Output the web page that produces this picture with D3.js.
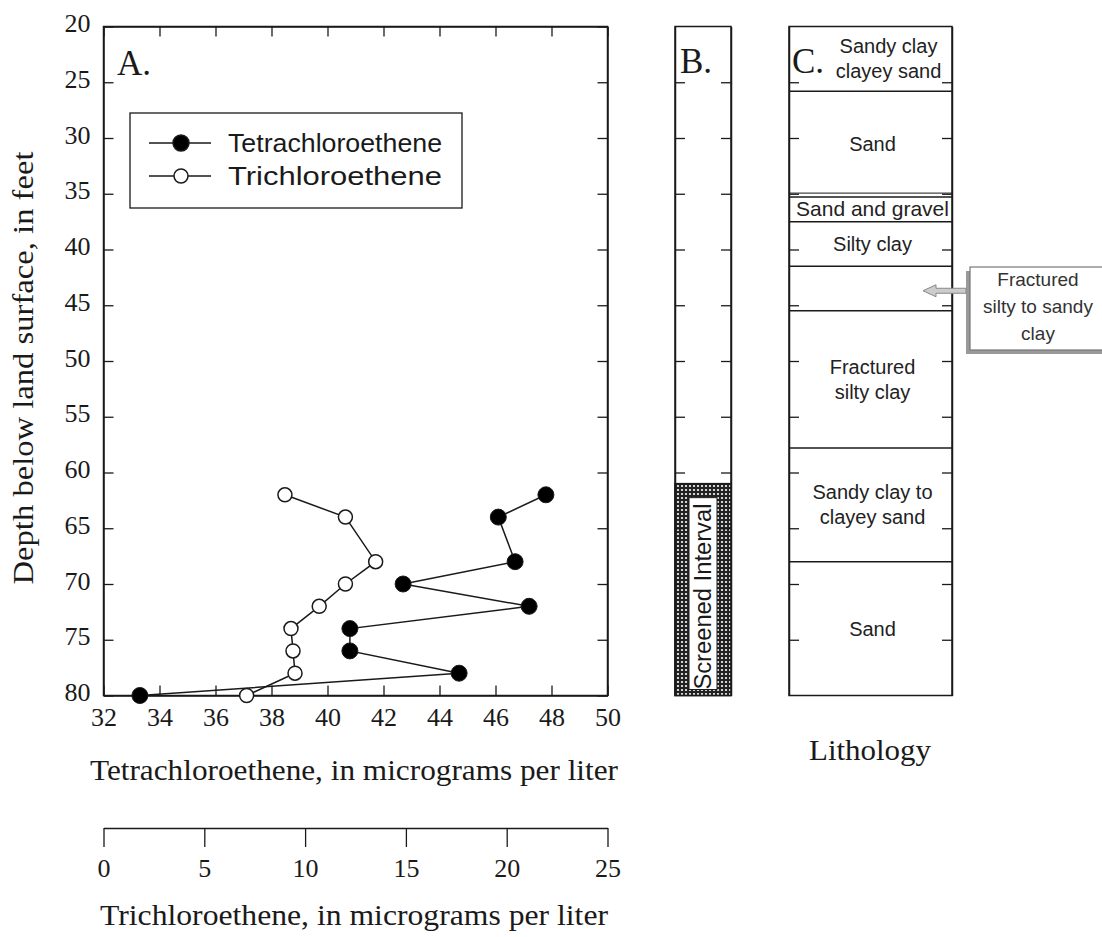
<!DOCTYPE html>
<html><head><meta charset="utf-8">
<script src="https://cdn.jsdelivr.net/npm/d3@7"></script>
<style>
html,body{margin:0;padding:0;background:#fff;}
svg{display:block;}
</style></head>
<body>
<svg id="chart" width="1102" height="937"></svg>
<script>
// ---------- data ----------
const depthTicks = [20,25,30,35,40,45,50,55,60,65,70,75,80];
const pceTicks = [32,34,36,38,40,42,44,46,48,50];
const tceTicks = [0,5,10,15,20,25];
const depths = [62,64,68,70,72,74,76,78,80];
const pceValues = [47.8,46.1,46.7,42.7,47.2,40.8,40.8,44.7,33.3];
const tceValues = [9.0,12.0,13.5,12.0,10.7,9.3,9.4,9.5,7.1];
const seriesNames = ["Tetrachloroethene","Trichloroethene"];
const layerTops =    [20,25.8,35.3,37.5,41.5,45.5,57.8,68];
const layerBottoms = [25.8,35.3,37.5,41.5,45.5,57.8,68,80];
const layerLabels = [["Sandy clay","clayey sand"],["Sand"],["Sand and gravel"],["Silty clay"],[],["Fractured","silty clay"],["Sandy clay to","clayey sand"],["Sand"]];
const calloutLines = ["Fractured","silty to sandy","clay"];
const calloutDepth = 43.7;
const screenedInterval = [61,80];
const screenedLabel = "Screened Interval";

// ---------- layout ----------
const SERIF = '"Liberation Serif","Times New Roman",Times,serif';
const SANS = '"Liberation Sans",Arial,Helvetica,sans-serif';
const svg = d3.select("#chart");
const ink = "#1a1a1a";
const y = d3.scaleLinear().domain([20,80]).range([26.5,695.5]);
const x = d3.scaleLinear().domain([32,50]).range([103.5,607.5]);
const xT = d3.scaleLinear().domain([0,25]).range([103.5,607.5]);

const defs = svg.append("defs");
const pat = defs.append("pattern").attr("id","screen").attr("patternUnits","userSpaceOnUse")
  .attr("width",4).attr("height",4);
pat.append("rect").attr("width",4).attr("height",4).attr("fill","#222");
pat.append("circle").attr("cx",2).attr("cy",2).attr("r",1.1).attr("fill","#fff");

function styleAxis(g){
  g.attr("font-family",null).attr("font-size",null);
  g.selectAll("path.domain").attr("stroke",ink).attr("stroke-width",1.5);
  g.selectAll(".tick line").attr("stroke",ink).attr("stroke-width",1.3);
  g.selectAll(".tick text").attr("fill",ink).style("font-family",SERIF).style("font-size","26px");
}

// ---------- Panel A ----------
const A = svg.append("g");
A.append("rect").attr("x",x.range()[0]).attr("y",y.range()[0])
  .attr("width",x.range()[1]-x.range()[0]).attr("height",y.range()[1]-y.range()[0])
  .attr("fill","none").attr("stroke",ink).attr("stroke-width",1.5);

const gl = A.append("g").attr("transform",`translate(${x.range()[0]},0)`)
  .call(d3.axisLeft(y).tickValues(depthTicks).tickSizeInner(-10).tickSizeOuter(0).tickPadding(13));
styleAxis(gl);
gl.selectAll(".tick text").attr("dy","0.2em");
const gr = A.append("g").attr("transform",`translate(${x.range()[1]},0)`)
  .call(d3.axisRight(y).tickValues(depthTicks).tickSizeInner(-10).tickSizeOuter(0).tickFormat(""));
styleAxis(gr);
const gb = A.append("g").attr("transform",`translate(0,${y.range()[1]})`)
  .call(d3.axisBottom(x).tickValues(pceTicks).tickSizeInner(-10).tickSizeOuter(0).tickPadding(12));
styleAxis(gb);
const gt = A.append("g").attr("transform",`translate(0,${y.range()[0]})`)
  .call(d3.axisTop(x).tickValues(pceTicks).tickSizeInner(-10).tickSizeOuter(0).tickFormat(""));
styleAxis(gt);

A.append("text").style("font-family",SERIF).attr("x",117).attr("y",75).attr("font-size",35).attr("fill",ink).text("A.");

// lines
const pcePts = depths.map((d,i)=>[x(pceValues[i]), y(d)]);
const tcePts = depths.map((d,i)=>[xT(tceValues[i]), y(d)]);
const line = d3.line();
A.append("path").attr("d",line(tcePts)).attr("fill","none").attr("stroke",ink).attr("stroke-width",1.5);
A.append("path").attr("d",line(pcePts)).attr("fill","none").attr("stroke",ink).attr("stroke-width",1.5);
A.selectAll("circle.tce").data(tcePts).enter().append("circle").attr("class","tce")
  .attr("cx",d=>d[0]).attr("cy",d=>d[1]).attr("r",7).attr("fill","#fff").attr("stroke",ink).attr("stroke-width",1.5);
A.selectAll("circle.pce").data(pcePts).enter().append("circle").attr("class","pce")
  .attr("cx",d=>d[0]).attr("cy",d=>d[1]).attr("r",8).attr("fill","#000").attr("stroke",ink).attr("stroke-width",1);

// legend
const L = A.append("g");
L.append("rect").attr("x",130).attr("y",113).attr("width",332).attr("height",95)
  .attr("fill","#fff").attr("stroke",ink).attr("stroke-width",1.3);
seriesNames.forEach((nm,i)=>{
  const ry = 143 + i*33;
  L.append("line").attr("x1",149).attr("x2",211).attr("y1",ry).attr("y2",ry).attr("stroke",ink).attr("stroke-width",1.5);
  L.append("circle").attr("cx",181).attr("cy",ry).attr("r",i===0?8:7)
    .attr("fill",i===0?"#000":"#fff").attr("stroke",ink).attr("stroke-width",1.5);
  L.append("text").style("font-family",SANS).attr("x",228).attr("y",ry+9).attr("font-size",25)
    .attr("fill",ink).attr("textLength",214).attr("lengthAdjust","spacingAndGlyphs").text(nm);
});

// axis titles
svg.append("text").style("font-family",SERIF).attr("transform","translate(33,368) rotate(-90)")
  .attr("text-anchor","middle").attr("font-size",30).attr("fill",ink)
  .attr("textLength",433).attr("lengthAdjust","spacingAndGlyphs").text("Depth below land surface, in feet");
svg.append("text").style("font-family",SERIF).attr("x",354).attr("y",780)
  .attr("text-anchor","middle").attr("font-size",30).attr("fill",ink)
  .attr("textLength",528).attr("lengthAdjust","spacingAndGlyphs").text("Tetrachloroethene, in micrograms per liter");

// TCE axis
const gT = svg.append("g").attr("transform","translate(0,828)")
  .call(d3.axisBottom(xT).tickValues(tceTicks).tickSizeInner(19).tickSizeOuter(0).tickPadding(12));
styleAxis(gT);
svg.append("text").style("font-family",SERIF).attr("x",354).attr("y",925)
  .attr("text-anchor","middle").attr("font-size",30).attr("fill",ink)
  .attr("textLength",508).attr("lengthAdjust","spacingAndGlyphs").text("Trichloroethene, in micrograms per liter");

// ---------- Panel B ----------
const bx0 = 675, bx1 = 731;
const B = svg.append("g");
B.append("rect").attr("x",bx0).attr("y",y(20)).attr("width",bx1-bx0).attr("height",y(80)-y(20))
  .attr("fill","#fff").attr("stroke",ink).attr("stroke-width",1.5);
B.append("rect").attr("x",bx0).attr("y",y(screenedInterval[0])).attr("width",bx1-bx0)
  .attr("height",y(screenedInterval[1])-y(screenedInterval[0])).attr("fill","url(#screen)").attr("stroke",ink).attr("stroke-width",1.5);
B.append("rect").attr("x",bx0+14).attr("y",y(screenedInterval[0])+14).attr("width",bx1-bx0-28)
  .attr("height",y(screenedInterval[1])-y(screenedInterval[0])-20).attr("fill","#fff").attr("stroke",ink).attr("stroke-width",1);
B.append("text").style("font-family",SANS).attr("transform",`translate(${(bx0+bx1)/2+8},${(y(screenedInterval[0])+y(screenedInterval[1]))/2+7}) rotate(-90)`)
  .attr("text-anchor","middle").attr("font-size",23).attr("fill",ink)
  .attr("textLength",186).attr("lengthAdjust","spacingAndGlyphs").text(screenedLabel);
const bl = B.append("g").attr("transform",`translate(${bx0},0)`)
  .call(d3.axisLeft(y).tickValues(depthTicks.slice(1,-1)).tickSizeInner(-10).tickSizeOuter(0).tickFormat(""));
styleAxis(bl);
const br = B.append("g").attr("transform",`translate(${bx1},0)`)
  .call(d3.axisRight(y).tickValues(depthTicks.slice(1,-1)).tickSizeInner(-10).tickSizeOuter(0).tickFormat(""));
styleAxis(br);
B.append("text").style("font-family",SERIF).attr("x",680).attr("y",73).attr("font-size",35).attr("fill",ink).text("B.");

// ---------- Panel C ----------
const cx0 = 789, cx1 = 952, cmid = (cx0+cx1)/2;
const C = svg.append("g");
C.append("rect").attr("x",cx0).attr("y",y(20)).attr("width",cx1-cx0).attr("height",y(80)-y(20))
  .attr("fill","#fff").attr("stroke",ink).attr("stroke-width",1.5);
const cl = C.append("g").attr("transform",`translate(${cx0},0)`)
  .call(d3.axisLeft(y).tickValues(depthTicks.slice(1,-1)).tickSizeInner(-10).tickSizeOuter(0).tickFormat(""));
styleAxis(cl);
const cr = C.append("g").attr("transform",`translate(${cx1},0)`)
  .call(d3.axisRight(y).tickValues(depthTicks.slice(1,-1)).tickSizeInner(-10).tickSizeOuter(0).tickFormat(""));
styleAxis(cr);
layerBottoms.slice(0,-1).forEach(d=>{
  C.append("line").attr("x1",cx0).attr("x2",cx1).attr("y1",y(d)).attr("y2",y(d)).attr("stroke",ink).attr("stroke-width",1.5);
});
C.append("line").attr("x1",cx0).attr("x2",cx1).attr("y1",y(layerBottoms[1])-4).attr("y2",y(layerBottoms[1])-4).attr("stroke",ink).attr("stroke-width",1);
layerLabels.forEach((lines,i)=>{
  const mid = (y(layerTops[i])+y(layerBottoms[i]))/2;
  const n = lines.length;
  lines.forEach((t,j)=>{
    C.append("text").style("font-family",SANS).attr("x", i===0 ? cmid+18 : cmid+2)
      .attr("y", mid + (j-(n-1)/2)*25 + 7).attr("text-anchor","middle")
      .attr("font-size", i===2 ? 21 : 20).attr("fill","#222").text(t);
  });
});
C.append("text").style("font-family",SERIF).attr("x",792).attr("y",73).attr("font-size",35).attr("fill",ink).text("C.");

// callout
const cy = y(calloutDepth);
C.append("rect").attr("x",966).attr("y",271).attr("width",140).attr("height",83).attr("fill","#999");
C.append("rect").attr("x",970).attr("y",267).attr("width",140).attr("height",83)
  .attr("fill","#fff").attr("stroke","#777").attr("stroke-width",1.2);
C.append("path").attr("d",`M${923},${cy} L${936},${cy-6} L${936},${cy-2.5} L${966},${cy-2.5} L${966},${cy+2.5} L${936},${cy+2.5} L${936},${cy+6} Z`)
  .attr("fill","#ccc").attr("stroke","#888").attr("stroke-width",1);
calloutLines.forEach((t,j)=>{
  C.append("text").style("font-family",SANS).attr("x",1038).attr("y",286+j*27).attr("text-anchor","middle")
    .attr("font-size",19).attr("fill","#333").text(t);
});
svg.append("text").style("font-family",SERIF).attr("x",870).attr("y",760).attr("text-anchor","middle")
  .attr("font-size",30).attr("fill",ink).attr("textLength",122).attr("lengthAdjust","spacingAndGlyphs").text("Lithology");
</script>
</body></html>
